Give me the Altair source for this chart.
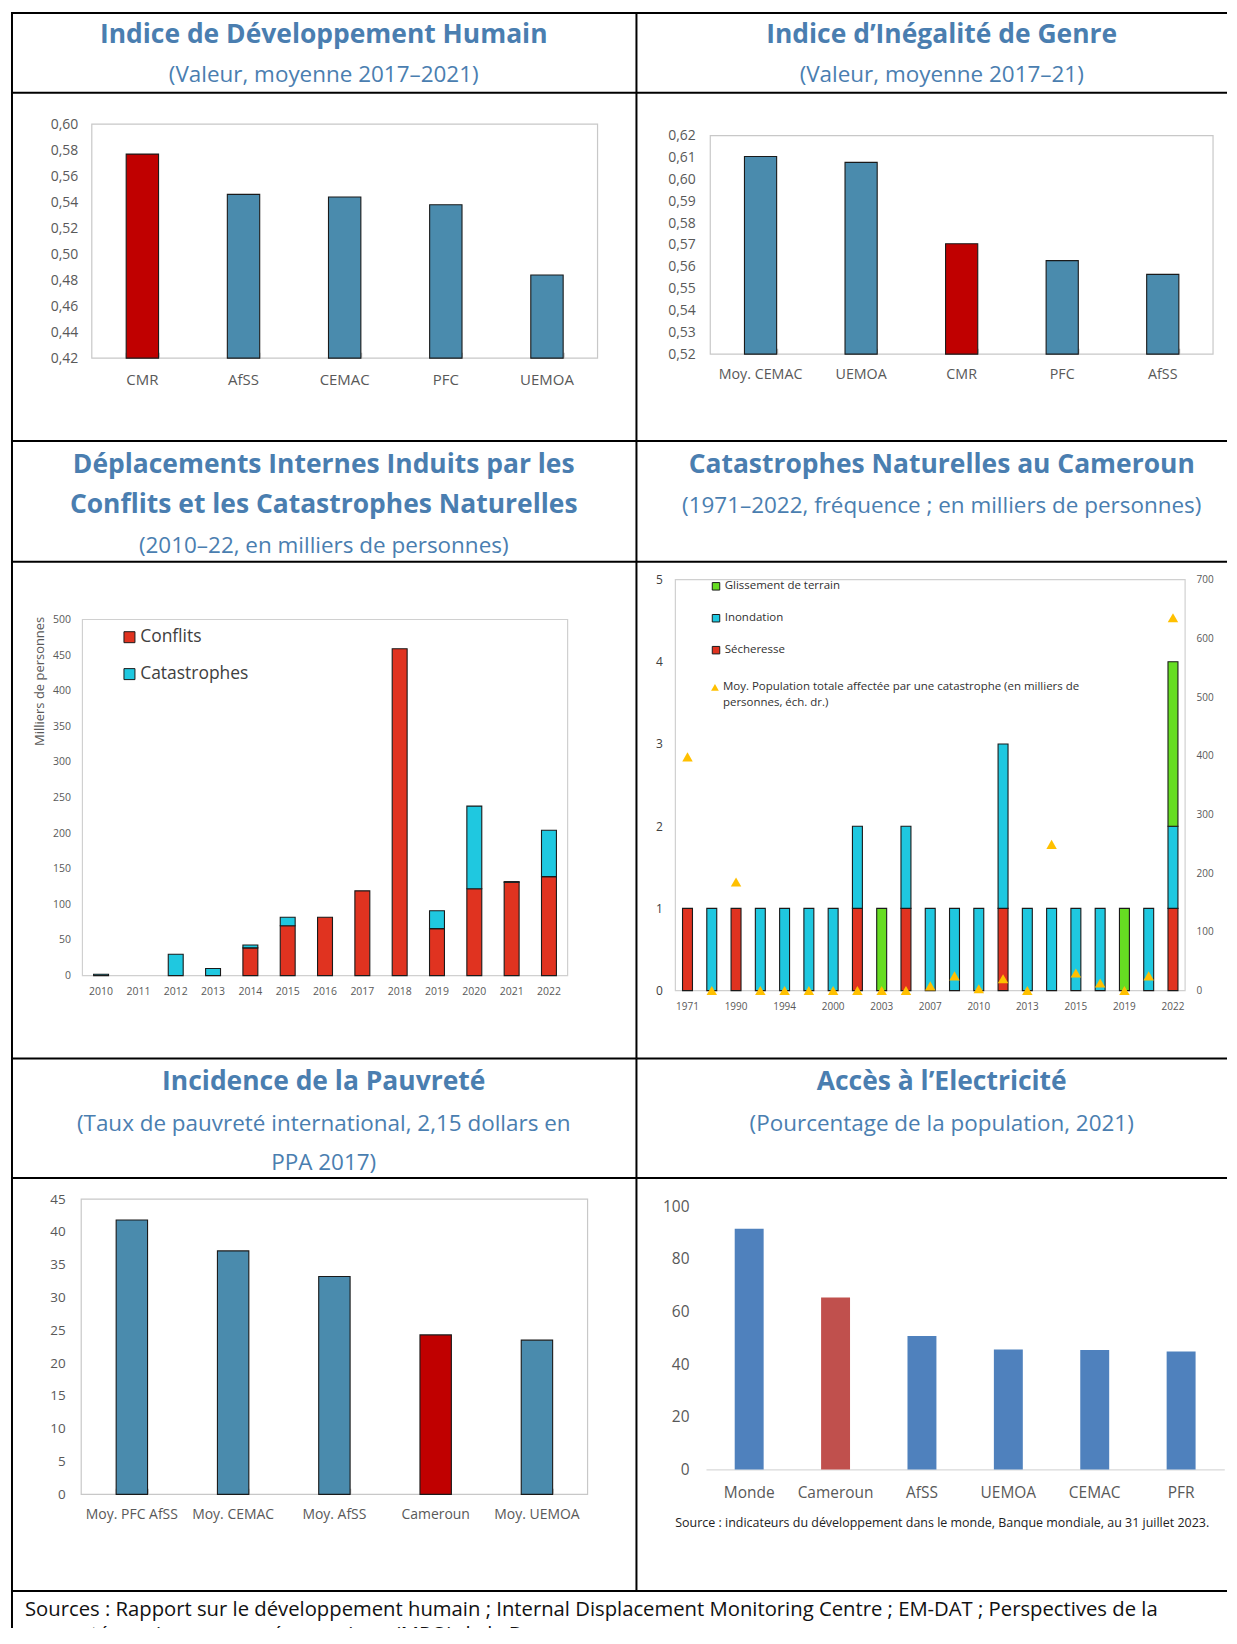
import altair as alt
import pandas as pd

# ---------------- data ----------------
idh_cats = ["CMR", "AfSS", "CEMAC", "PFC", "UEMOA"]
idh_vals = [0.577, 0.546, 0.544, 0.538, 0.484]
idh_ticks = [0.42, 0.44, 0.46, 0.48, 0.50, 0.52, 0.54, 0.56, 0.58, 0.60]

iig_cats = ["Moy. CEMAC", "UEMOA", "CMR", "PFC", "AfSS"]
iig_vals = [0.6105, 0.6078, 0.5705, 0.5628, 0.5565]
iig_ticks = [0.52, 0.53, 0.54, 0.55, 0.56, 0.57, 0.58, 0.59, 0.60, 0.61, 0.62]

dep_years = ["2010", "2011", "2012", "2013", "2014", "2015", "2016",
             "2017", "2018", "2019", "2020", "2021", "2022"]
dep_conflits = [0, 0, 0, 0, 39, 70, 82, 119, 459, 66, 122, 131, 139]
dep_catastrophes = [2, 0, 30, 10, 4, 12, 0, 0, 0, 25, 116, 1, 65]
dep_series = ["Conflits", "Catastrophes"]
dep_ticks = [0, 50, 100, 150, 200, 250, 300, 350, 400, 450, 500]

cat_years = ["1971", "1988", "1990", "1992", "1994", "1998", "2000", "2002",
             "2003", "2005", "2007", "2008", "2010", "2012", "2013", "2014",
             "2015", "2017", "2019", "2020", "2022"]
cat_secheresse = [1, 0, 1, 0, 0, 0, 0, 1, 0, 1, 0, 0, 0, 1, 0, 0, 0, 0, 0, 0, 1]
cat_inondation = [0, 1, 0, 1, 1, 1, 1, 1, 0, 1, 1, 1, 1, 2, 1, 1, 1, 1, 0, 1, 1]
cat_glissement = [0, 0, 0, 0, 0, 0, 0, 0, 1, 0, 0, 0, 0, 0, 0, 0, 0, 0, 1, 0, 2]
cat_population = [398, 0, 185, 0, 0, 0, 0, 0, 0, 0, 8, 25, 3, 20, 0, 249, 30, 13, 0, 25, 635]
cat_labels = ["1971", "1990", "1994", "2000", "2003", "2007", "2010",
              "2013", "2015", "2019", "2022"]
cat_series = ["Glissement de terrain", "Inondation", "Sécheresse"]
cat_pop_label = "Moy. Population totale affectée par une catastrophe (en milliers de\npersonnes, éch. dr.)"

pauv_cats = ["Moy. PFC AfSS", "Moy. CEMAC", "Moy. AfSS", "Cameroun", "Moy. UEMOA"]
pauv_vals = [41.8, 37.1, 33.2, 24.3, 23.5]
pauv_ticks = [0, 5, 10, 15, 20, 25, 30, 35, 40, 45]

elec_cats = ["Monde", "Cameroun", "AfSS", "UEMOA", "CEMAC", "PFR"]
elec_vals = [91.4, 65.3, 50.7, 45.5, 45.3, 44.8]
elec_ticks = [0, 20, 40, 60, 80, 100]

# ---------------- style ----------------
FONT = "Open Sans"
BLUE_T = "#4A7EB0"
LBL = "#595959"
BAR_BLUE = "#4A8BAD"
BAR_RED = "#C00000"
EDGE = "#1a1a1a"
WL, WR = 627, 592
WS = WL + WR
H1, H2, H3, H4 = 430, 619, 534, 37
ONE = [{}]
TS, SS = 26.5, 22.5   # title / subtitle font sizes


def txt(s, x, y, size, color=BLUE_T, weight="normal", align="center", angle=0,
        clip=False, line_height=None):
    kw = dict(text=s, fontSize=size, font=FONT, color=color, fontWeight=weight,
              align=align, baseline="middle")
    if angle:
        kw["angle"] = angle
    if clip:
        kw["clip"] = True
    if line_height:
        kw["lineBreak"] = "\n"
        kw["lineHeight"] = line_height
    return alt.Chart(alt.Data(values=ONE)).mark_text(**kw).encode(
        x=alt.value(x), y=alt.value(y))


def hrule(y, x1, x2, color="black", w=2):
    return alt.Chart(alt.Data(values=ONE)).mark_rule(color=color, strokeWidth=w).encode(
        x=alt.value(x1), x2=alt.value(x2), y=alt.value(y))


def vrule(x, y1, y2, color="black", w=2):
    return alt.Chart(alt.Data(values=ONE)).mark_rule(color=color, strokeWidth=w).encode(
        x=alt.value(x), y=alt.value(y1), y2=alt.value(y2))


def frame(x1, x2, y1, y2, color="#C8C8C8"):
    return alt.Chart(alt.Data(values=ONE)).mark_rect(
        fill="transparent", stroke=color, strokeWidth=1.2).encode(
        x=alt.value(x1), x2=alt.value(x2), y=alt.value(y1), y2=alt.value(y2))


def comma_expr(d):
    return "replace(format(datum.value, '.%df'), '.', ',')" % d


def simple_bars(cats, vals, fld, H, x0, x1, yb, yt, dom, ticks, dec, pi,
                xpad, ypad, xfs, yfs, y2base=None, colors=(BAR_RED, BAR_BLUE),
                stroke=True, xdomain=False, xdomain_color="#D9D9D9", lblcolor=LBL,
                inner_ticks=True):
    df = pd.DataFrame({"cat": cats, "val": vals})
    df[fld] = ["cmr" if c in ("CMR", "Cameroun") else "autre" for c in cats]
    xscale = alt.Scale(domain=cats, range=[x0, x1], paddingInner=pi, paddingOuter=pi / 2)
    x = alt.X("cat:N", sort=cats, scale=xscale,
              axis=alt.Axis(orient="bottom", offset=yb - H, labelAngle=0, ticks=False,
                            domain=xdomain, domainColor=xdomain_color, domainWidth=1.2,
                            labelPadding=xpad, labelFontSize=xfs, labelColor=lblcolor,
                            labelFont=FONT, title=None))
    yax = dict(orient="left", offset=-x0, values=ticks, ticks=False, domain=False,
               grid=False, labelPadding=ypad, labelFontSize=yfs, labelColor=lblcolor,
               labelFont=FONT, title=None)
    if dec:
        yax["labelExpr"] = comma_expr(dec)
    y = alt.Y("val:Q", scale=alt.Scale(domain=dom, range=[yb, yt], zero=False, nice=False),
              axis=alt.Axis(**yax))
    enc = dict(x=x, y=y,
               color=alt.Color(fld + ":N", scale=alt.Scale(domain=["cmr", "autre"],
                                                           range=list(colors)), legend=None))
    if y2base is not None:
        enc["y2"] = alt.datum(y2base)
    mk = dict(stroke=EDGE, strokeWidth=1.1) if stroke else {}
    out = [alt.Chart(df).mark_bar(**mk).encode(**enc)]
    if inner_ticks:
        # inward category-boundary ticks on the bottom frame line
        out.append(alt.Chart(df).mark_point(opacity=0).encode(
            x=alt.X("cat:N", sort=cats, scale=xscale,
                    axis=alt.Axis(orient="top", offset=-yb, labels=False, domain=False,
                                  ticks=True, tickBand="extent", tickSize=6,
                                  tickColor="#BFBFBF", tickWidth=1.2, grid=False,
                                  title=None))))
    return out


# ---------------- panel 1 : IDH ----------------
p1 = alt.layer(
    vrule(1, 0, H1), hrule(1, 0, WL), hrule(81, 0, WL),
    txt("Indice de Développement Humain", 313.5, 23, TS, weight="bold"),
    txt("(Valeur, moyenne 2017–2021)", 313.5, 63, SS),
    frame(81, 588, 112.5, 347),
    *simple_bars(idh_cats, idh_vals, "hl1", H1, 81, 588, 347, 112.5, [0.42, 0.60],
                 idh_ticks, 2, 0.68, 14, 14, 15, 14, y2base=0.42),
).resolve_axis(x="independent").properties(width=WL, height=H1)

# ---------------- panel 2 : IIG ----------------
p2 = alt.layer(
    vrule(0, 0, H1), hrule(1, 0, WR), hrule(81, 0, WR),
    txt("Indice d’Inégalité de Genre", 306, 23, TS, weight="bold"),
    txt("(Valeur, moyenne 2017–21)", 306, 63, SS),
    frame(74, 578, 124, 343),
    *simple_bars(iig_cats, iig_vals, "hl2", H1, 74, 578, 343, 124, [0.52, 0.62],
                 iig_ticks, 2, 0.68, 13, 15, 14.3, 14, y2base=0.52),
).resolve_axis(x="independent").properties(width=WR, height=H1)

# ---------------- panel 3 : déplacements ----------------
rows3 = []
for i, yr in enumerate(dep_years):
    for k, (s, v) in enumerate(zip(dep_series, [dep_conflits[i], dep_catastrophes[i]])):
        if v > 0:
            rows3.append({"yr": yr, "type3": s, "val": v, "ord3": k})
df3 = pd.DataFrame(rows3)
bars3 = alt.Chart(df3).mark_bar(stroke=EDGE, strokeWidth=1.1).encode(
    x=alt.X("yr:N", sort=dep_years,
            scale=alt.Scale(domain=dep_years, range=[71.6, 558], paddingInner=0.6,
                            paddingOuter=0.3),
            axis=alt.Axis(orient="bottom", offset=536 - H2, labelAngle=0, ticks=False,
                          domain=False, labelPadding=11, labelFontSize=10.5,
                          labelColor=LBL, labelFont=FONT, title=None)),
    y=alt.Y("val:Q", stack="zero",
            scale=alt.Scale(domain=[0, 500], range=[536, 179], nice=False),
            axis=alt.Axis(orient="left", offset=-71.6, values=dep_ticks, ticks=False,
                          domain=False, grid=False, labelPadding=12, labelFontSize=10.5,
                          labelColor=LBL, labelFont=FONT, title=None)),
    color=alt.Color("type3:N", scale=alt.Scale(domain=dep_series,
                                               range=["#E03320", "#1FC8E0"]),
                    legend=alt.Legend(orient="none", legendX=110, legendY=188, title=None,
                                      symbolType="square", symbolSize=121,
                                      symbolStrokeColor=EDGE, symbolStrokeWidth=1,
                                      labelFontSize=17.5, labelFont=FONT,
                                      labelColor="#404040", rowPadding=18, labelOffset=2)),
    order=alt.Order("ord3:Q", sort="ascending"),
)
p3 = alt.layer(
    vrule(1, 0, H2), hrule(0, 0, WL), hrule(121, 0, WL),
    txt("Déplacements Internes Induits par les", 313.5, 24, TS, weight="bold"),
    txt("Conflits et les Catastrophes Naturelles", 313.5, 64, TS, weight="bold"),
    txt("(2010–22, en milliers de personnes)", 313.5, 105, SS),
    frame(71.6, 558, 179, 536, "#D0D0D0"),
    txt("Milliers de personnes", 29, 241, 13, color=LBL, angle=270),
    bars3,
).properties(width=WL, height=H2)

# ---------------- panel 4 : catastrophes ----------------
rows4 = []
series_vals = {"Sécheresse": cat_secheresse, "Inondation": cat_inondation,
               "Glissement de terrain": cat_glissement}
for i, yr in enumerate(cat_years):
    for k, s in enumerate(["Sécheresse", "Inondation", "Glissement de terrain"]):
        v = series_vals[s][i]
        if v > 0:
            rows4.append({"yr": yr, "type4": s, "val": v, "ord4": k})
df4 = pd.DataFrame(rows4)
x4 = alt.X("yr:N", sort=cat_years,
           scale=alt.Scale(domain=cat_years, range=[39, 550], paddingInner=0.59,
                           paddingOuter=0.295),
           axis=alt.Axis(orient="bottom", offset=551 - H2, values=cat_labels, labelAngle=0,
                         ticks=False, domain=False, labelPadding=11, labelFontSize=10,
                         labelColor=LBL, labelFont=FONT, title=None))
bars4 = alt.Chart(df4).mark_bar(stroke=EDGE, strokeWidth=1.1).encode(
    x=x4,
    y=alt.Y("val:Q", stack="zero",
            scale=alt.Scale(domain=[0, 5], range=[551, 139], nice=False),
            axis=alt.Axis(orient="left", offset=-39, values=[0, 1, 2, 3, 4, 5], ticks=False,
                          domain=False, grid=False, labelPadding=13, labelFontSize=12,
                          labelColor="#404040", labelFont=FONT, title=None)),
    color=alt.Color("type4:N", scale=alt.Scale(domain=cat_series,
                                               range=["#66DD22", "#1FC8E0", "#E03320"]),
                    legend=alt.Legend(orient="none", legendX=74, legendY=140, title=None,
                                      symbolType="square", symbolSize=56,
                                      symbolStrokeColor=EDGE, symbolStrokeWidth=1,
                                      labelFontSize=11.5, labelFont=FONT,
                                      labelColor="#303030", rowPadding=19, labelOffset=3)),
    order=alt.Order("ord4:Q", sort="ascending"),
)
df4b = pd.DataFrame({"yr": cat_years, "pop": cat_population})
tri4 = alt.Chart(df4b).mark_point(shape="triangle-up", filled=True, size=110,
                                  color="#FFC000", opacity=1).encode(
    x=x4,
    y=alt.Y("pop:Q", scale=alt.Scale(domain=[0, 700], range=[551, 139], nice=False),
            axis=alt.Axis(orient="right", offset=550 - WR,
                          values=[0, 100, 200, 300, 400, 500, 600, 700],
                          ticks=False, domain=False, grid=False, labelPadding=11,
                          labelFontSize=10, labelColor=LBL, labelFont=FONT, title=None)),
)
tri_leg = alt.Chart(alt.Data(values=ONE)).mark_point(
    shape="triangle-up", filled=True, size=60, color="#FFC000", opacity=1).encode(
    x=alt.value(78.7), y=alt.value(247))
p4 = alt.layer(
    vrule(0, 0, H2), hrule(0, 0, WR), hrule(121, 0, WR),
    txt("Catastrophes Naturelles au Cameroun", 306, 24, TS, weight="bold"),
    txt("(1971–2022, fréquence ; en milliers de personnes)", 306, 65, SS),
    frame(39, 550, 139, 551, "#D0D0D0"),
    bars4, tri4, tri_leg,
    txt(cat_pop_label, 86.7, 247, 11.5, color="#303030", align="left", line_height=16),
).resolve_scale(y="independent").properties(width=WR, height=H2)

# ---------------- panel 5 : pauvreté (+ sources row) ----------------
p5 = alt.layer(
    vrule(1, 0, H3 + H4), hrule(0, 0, WL), hrule(120, 0, WL), hrule(H3, 0, WS),
    txt("Incidence de la Pauvreté", 313.5, 24, TS, weight="bold"),
    txt("(Taux de pauvreté international, 2,15 dollars en", 313.5, 66, SS),
    txt("PPA 2017)", 313.5, 104.5, SS),
    frame(70.4, 578, 141, 437),
    *simple_bars(pauv_cats, pauv_vals, "hl5", H3 + H4, 70.4, 578, 437, 141, [0, 45],
                 pauv_ticks, 0, 0.69, 13, 16, 14, 13.5),
    txt("Sources : Rapport sur le développement humain ; Internal Displacement Monitoring Centre ; EM-DAT ; Perspectives de la",
        14, H3 + 19, 20.3, color="#111111", align="left"),
    txt("pauvreté au niveau macroéconomique (MPO) de la Banque mondiale",
        14, H3 + 44, 20.3, color="#111111", align="left", clip=True),
).resolve_axis(x="independent").properties(width=WL, height=H3 + H4)

# ---------------- panel 6 : électricité ----------------
p6 = alt.layer(
    vrule(0, 0, H3), hrule(0, 0, WR), hrule(120, 0, WR),
    txt("Accès à l’Electricité", 306, 24, TS, weight="bold"),
    txt("(Pourcentage de la population, 2021)", 306, 66, SS),
    *simple_bars(elec_cats, elec_vals, "hl6", H3 + H4, 69.7, 589.3, 412, 148, [0, 100],
                 elec_ticks, 0, 0.665, 16, 17, 15.5, 15.5,
                 colors=("#C0504D", "#4F81BD"), stroke=False, xdomain=True,
                 inner_ticks=False),
    txt("Source : indicateurs du développement dans le monde, Banque mondiale, au 31 juillet 2023.",
        306.5, 466, 12.5, color="#222222"),
).properties(width=WR, height=H3 + H4)

chart = alt.concat(p1, p2, p3, p4, p5, p6, columns=2, spacing=0, bounds="flush").resolve_scale(
    color="independent"
).properties(
    padding={"left": 1, "top": 0, "right": 0, "bottom": 0}
).configure(font=FONT, view=alt.ViewConfig(stroke="transparent"))

chart.save("out.html", embed_options={"renderer": "svg", "actions": False})
